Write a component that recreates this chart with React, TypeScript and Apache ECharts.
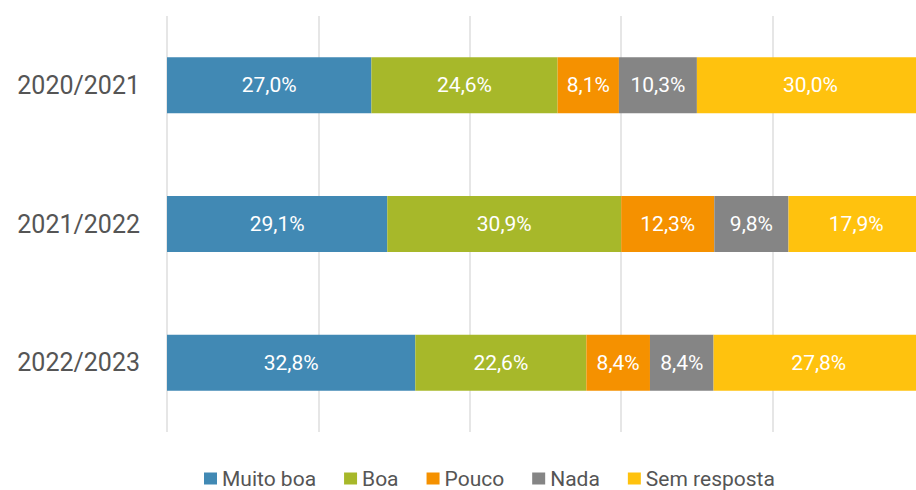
import React, { useEffect, useRef } from "react";
import * as echarts from "echarts";

const categories = ["2020/2021", "2021/2022", "2022/2023"];
const seriesNames = ["Muito boa", "Boa", "Pouco", "Nada", "Sem resposta"];
const muitoBoa = [27.0, 29.1, 32.8];
const boa = [24.6, 30.9, 22.6];
const pouco = [8.1, 12.3, 8.4];
const nada = [10.3, 9.8, 8.4];
const semResposta = [30.0, 17.9, 27.8];
const colors = ["#4189B4", "#A7B82A", "#F59100", "#858585", "#FFC20E"];

export default function App() {
  const ref = useRef<HTMLDivElement>(null);
  useEffect(() => {
    if (!ref.current) return;
    const chart = echarts.init(ref.current, null, { renderer: "svg" });
    const values = [muitoBoa, boa, pouco, nada, semResposta];
    const font = "Roboto";
    chart.setOption({
      animation: false,
      color: colors,
      textStyle: { fontFamily: font },
      grid: { left: 167, right: 0, top: 16, height: 416, containLabel: false },
      xAxis: {
        type: "value",
        min: 0,
        max: 100,
        interval: 20,
        axisLabel: { show: false },
        axisLine: { show: false },
        axisTick: { show: false },
        splitLine: { show: true, lineStyle: { color: "#e6e6e6", width: 2 } },
      },
      yAxis: {
        type: "category",
        data: categories,
        inverse: true,
        axisLine: { show: false },
        axisTick: { show: false },
        axisLabel: { color: "#555555", fontSize: 25, margin: 27, fontFamily: font },
      },
      legend: {
        data: seriesNames,
        top: 468,
        left: 204,
        padding: 0,
        itemWidth: 13,
        itemHeight: 12,
        itemGap: 28,
        icon: "rect",
        textStyle: { color: "#555555", fontSize: 21, fontFamily: font },
      },
      series: seriesNames.map((name, i) => ({
        name,
        type: "bar",
        stack: "total",
        barWidth: 56,
        data: values[i],
        itemStyle: { color: colors[i] },
        label: {
          show: true,
          position: "inside",
          color: "#ffffff",
          fontSize: 21,
          fontFamily: font,
          formatter: (p: any) => p.value.toFixed(1).replace(".", ",") + "%",
        },
      })),
    });
    return () => chart.dispose();
  }, []);
  return (
    <div style={{ position: "fixed", left: 0, top: 0, width: 916, height: 490, overflow: "hidden", background: "#fff" }}>
      <div ref={ref} style={{ width: 924, height: 490 }} />
    </div>
  );
}
